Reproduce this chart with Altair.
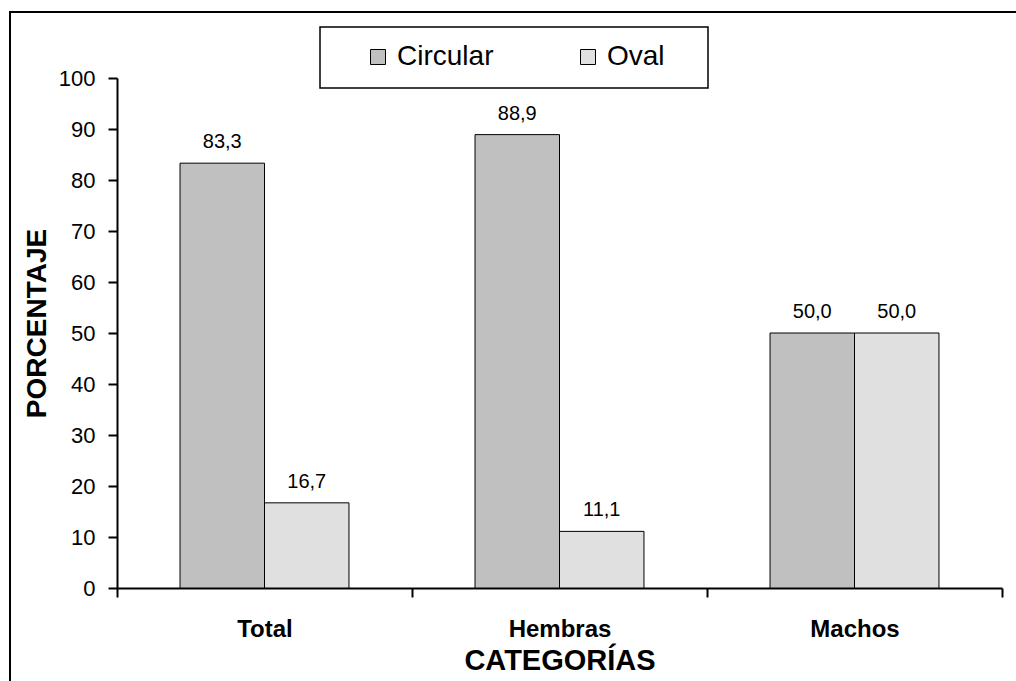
import altair as alt
import pandas as pd

categories = ["Total", "Hembras", "Machos"]
series = ["Circular", "Oval"]
circular = [83.3, 88.9, 50.0]
oval = [16.7, 11.1, 50.0]
colors = ["#C0C0C0", "#E0E0E0"]

rows = []
for i, c in enumerate(categories):
    for s, vals in zip(series, [circular, oval]):
        v = vals[i]
        rows.append({"cat": c, "forma": s, "valor": v,
                     "label": f"{v:.1f}".replace(".", ",")})
df = pd.DataFrame(rows)

FONT = "Liberation Sans"
W, H = 885, 510

x_enc = alt.X("cat:N", sort=categories,
              scale=alt.Scale(paddingInner=0, paddingOuter=0),
              axis=alt.Axis(title="CATEGORÍAS", labelAngle=0, tickBand="extent",
                            tickSize=9, tickWidth=2, tickColor="black",
                            domainColor="black", domainWidth=2,
                            labelFont=FONT, labelFontSize=24, labelFontWeight="bold",
                            labelColor="black", labelPadding=20,
                            titleFont=FONT, titleFontSize=29, titleFontWeight="bold",
                            titleColor="black", titlePadding=5))
xo_enc = alt.XOffset("forma:N", sort=series,
                     scale=alt.Scale(paddingInner=0, paddingOuter=0.746))
y_enc = alt.Y("valor:Q",
              scale=alt.Scale(domain=[0, 100], nice=False),
              axis=alt.Axis(title="PORCENTAJE", values=list(range(0, 101, 10)),
                            grid=False, tickSize=9, tickWidth=2, tickColor="black",
                            domainColor="black", domainWidth=2,
                            labelFont=FONT, labelFontSize=22, labelColor="black",
                            labelPadding=13,
                            titleFont=FONT, titleFontSize=28, titleFontWeight="bold",
                            titleColor="black", titleX=-80, titleY=245,
                            titleBaseline="middle"))

bars = alt.Chart(df).mark_bar(stroke="black", strokeWidth=1).encode(
    x=x_enc, xOffset=xo_enc, y=y_enc,
    color=alt.Color("forma:N", sort=series,
                    scale=alt.Scale(domain=series, range=colors),
                    legend=alt.Legend(orient="none", legendX=247, legendY=-35,
                                      direction="horizontal", title=None,
                                      symbolType="square", symbolSize=225,
                                      symbolStrokeColor="black", symbolStrokeWidth=1,
                                      symbolOpacity=1,
                                      labelFont=FONT, labelFontSize=28,
                                      labelColor="black", labelOffset=5,
                                      columnPadding=80, padding=0)),
)

labels = alt.Chart(df).mark_text(font=FONT, fontSize=20, color="black",
                                 baseline="alphabetic", dy=-15).encode(
    x=alt.X("cat:N", sort=categories), xOffset=alt.XOffset("forma:N", sort=series),
    y="valor:Q", text="label:N")

one = pd.DataFrame({"k": [0]})
outer = alt.Chart(one).mark_rect(fill=None, stroke="black", strokeWidth=2).encode(
    x=alt.value(-107), x2=alt.value(W + 30), y=alt.value(-66), y2=alt.value(H + 120))
legbox = alt.Chart(one).mark_rect(fill="white", stroke="black", strokeWidth=1.5).encode(
    x=alt.value(203), x2=alt.value(591), y=alt.value(-51), y2=alt.value(10))

chart = alt.layer(outer, legbox, bars, labels).properties(
    width=W, height=H,
    background="white",
    autosize=alt.AutoSizeParams(type="none"),
    padding={"left": 117, "top": 78, "right": 14, "bottom": 93},
).configure_view(stroke=None)

chart.save("out.html", embed_options={"renderer": "svg", "actions": False})
